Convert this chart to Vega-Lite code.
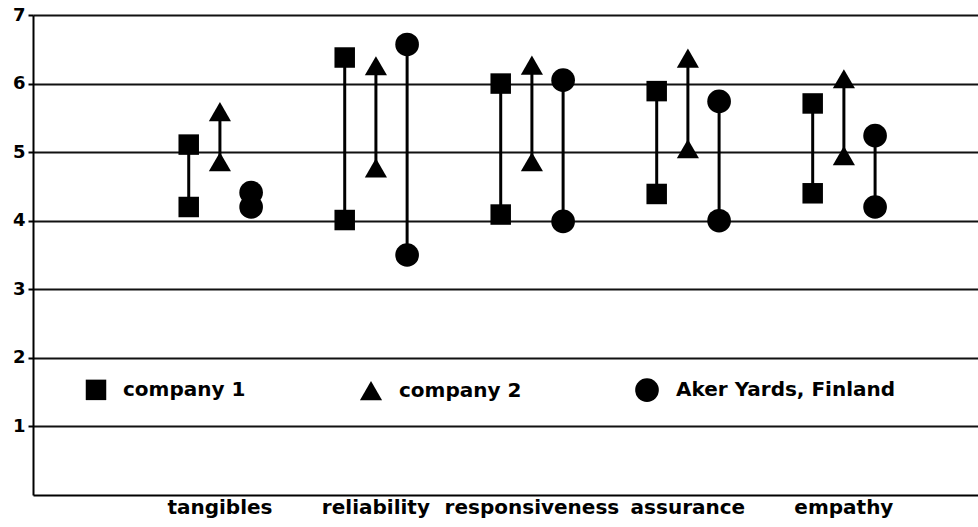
{
  "$schema": "https://vega.github.io/schema/vega-lite/v6.json",
  "width": 945,
  "height": 480,
  "autosize": {"type": "none"},
  "padding": {"left": 33, "top": 15, "right": 0, "bottom": 32},
  "background": "white",
  "config": {
    "view": {"stroke": null},
    "font": "DejaVu Sans",
    "axis": {"labelFont": "DejaVu Sans", "labelFontWeight": "bold", "labelColor": "#000"}
  },
  "data": {
    "values": [
      {"dimension": "tangibles", "company": "company 1", "low": 4.20, "high": 5.11},
      {"dimension": "tangibles", "company": "company 2", "low": 4.86, "high": 5.59},
      {"dimension": "tangibles", "company": "Aker Yards, Finland", "low": 4.20, "high": 4.41},
      {"dimension": "reliability", "company": "company 1", "low": 4.01, "high": 6.38},
      {"dimension": "reliability", "company": "company 2", "low": 4.77, "high": 6.26},
      {"dimension": "reliability", "company": "Aker Yards, Finland", "low": 3.50, "high": 6.57},
      {"dimension": "responsiveness", "company": "company 1", "low": 4.09, "high": 6.00},
      {"dimension": "responsiveness", "company": "company 2", "low": 4.86, "high": 6.27},
      {"dimension": "responsiveness", "company": "Aker Yards, Finland", "low": 3.99, "high": 6.05},
      {"dimension": "assurance", "company": "company 1", "low": 4.39, "high": 5.89},
      {"dimension": "assurance", "company": "company 2", "low": 5.05, "high": 6.37},
      {"dimension": "assurance", "company": "Aker Yards, Finland", "low": 4.00, "high": 5.74},
      {"dimension": "empathy", "company": "company 1", "low": 4.40, "high": 5.71},
      {"dimension": "empathy", "company": "company 2", "low": 4.95, "high": 6.07},
      {"dimension": "empathy", "company": "Aker Yards, Finland", "low": 4.20, "high": 5.24}
    ]
  },
  "encoding": {
    "x": {
      "field": "dimension",
      "type": "nominal",
      "sort": ["tangibles", "reliability", "responsiveness", "assurance", "empathy"],
      "scale": {"paddingInner": 0, "paddingOuter": 0.529, "align": 0.66},
      "axis": {
        "title": null,
        "labelAngle": 0,
        "labelFontSize": 20,
        "labelPadding": 2,
        "ticks": false,
        "domainColor": "#000",
        "domainWidth": 2,
        "grid": false
      }
    },
    "xOffset": {
      "field": "company",
      "type": "nominal",
      "sort": ["company 1", "company 2", "Aker Yards, Finland"],
      "scale": {"paddingInner": 0, "paddingOuter": 1.016}
    }
  },
  "layer": [
    {
      "mark": {"type": "rule", "color": "#000", "strokeWidth": 3},
      "encoding": {
        "y": {
          "field": "low",
          "type": "quantitative",
          "scale": {"domain": [0, 7], "nice": false},
          "axis": {
            "title": null,
            "values": [1, 2, 3, 4, 5, 6, 7],
            "format": "d",
            "labelFontSize": 18,
            "labelPadding": 3,
            "tickSize": 5,
            "tickColor": "#000",
            "tickWidth": 2,
            "domainColor": "#000",
            "domainWidth": 2,
            "grid": true,
            "gridColor": "#111",
            "gridWidth": 2,
            "gridOpacity": 1
          }
        },
        "y2": {"field": "high"}
      }
    },
    {
      "mark": {"type": "point", "filled": true, "color": "#000", "opacity": 1},
      "encoding": {
        "y": {"field": "low", "type": "quantitative"},
        "shape": {
          "field": "company",
          "type": "nominal",
          "scale": {
            "domain": ["company 1", "company 2", "Aker Yards, Finland"],
            "range": ["square", "triangle-up", "circle"]
          },
          "legend": {
            "title": null,
            "orient": "none",
            "direction": "horizontal",
            "legendX": 52,
            "legendY": 362,
            "symbolFillColor": "#000",
            "symbolStrokeColor": "#000",
            "symbolOpacity": 1,
            "labelFont": "DejaVu Sans",
            "labelFontWeight": "bold",
            "labelFontSize": 20,
            "labelColor": "#000",
            "labelOffset": 16,
            "columnPadding": 110,
            "labelLimit": 400,
            "padding": 0
          }
        },
        "size": {
          "field": "company",
          "type": "nominal",
          "scale": {
            "domain": ["company 1", "company 2", "Aker Yards, Finland"],
            "range": [420, 560, 400]
          }
        }
      }
    },
    {
      "mark": {"type": "point", "filled": true, "color": "#000", "opacity": 1},
      "encoding": {
        "y": {"field": "high", "type": "quantitative"},
        "shape": {"field": "company", "type": "nominal"},
        "size": {"field": "company", "type": "nominal"}
      }
    }
  ]
}
